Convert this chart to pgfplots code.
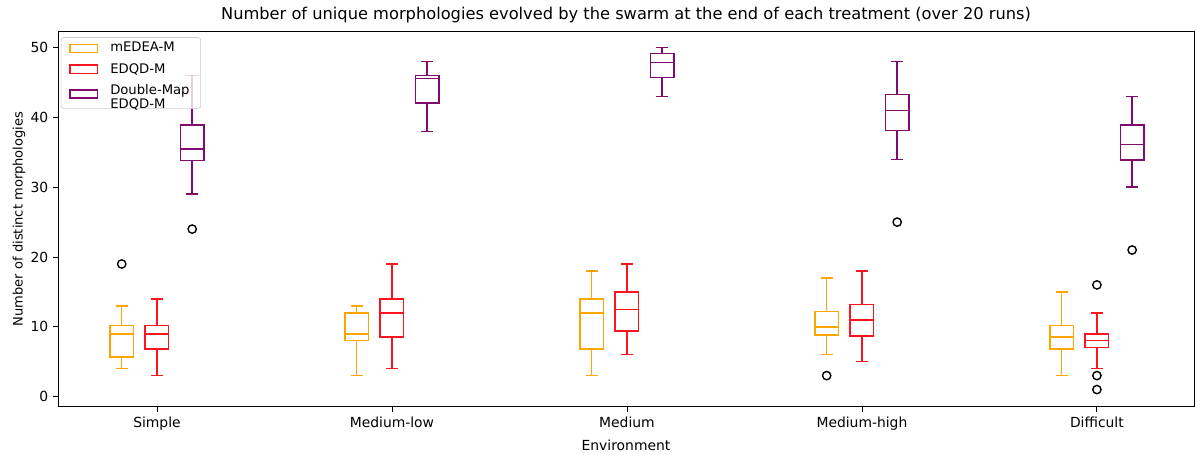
\documentclass[border=0pt]{standalone}
\usepackage{pgfplots}
\pgfplotsset{compat=1.18}
\usepgfplotslibrary{statistics}
\usepackage{fontspec}
\setmainfont{DejaVu Sans}
\definecolor{cA}{RGB}{255,165,0}
\definecolor{cB}{RGB}{250,20,30}
\definecolor{cC}{RGB}{128,10,110}
\begin{document}
\begin{tikzpicture}
\begin{axis}[
  scale only axis,
  width=818pt, height=270.7pt,
  xmin=-0.421, xmax=4.413, ymin=-1.48, ymax=52.4,
  xtick={0,1,2,3,4},
  xticklabels={Simple,Medium-low,Medium,Medium-high,Difficult},
  ytick={0,10,20,30,40,50},
  tick align=outside, tick pos=left,
  major tick length=3.5pt,
  every tick/.style={black, line width=0.6pt},
  axis line style={line width=0.6pt},
  /pgf/number format/assume math mode=true,
  tick label style={font=\fontsize{10}{12}\selectfont},
  xlabel={Environment}, ylabel={Number of distinct morphologies},
  xlabel style={font=\fontsize{10}{12}\selectfont},
  ylabel style={font=\fontsize{9.4}{11}\selectfont, yshift=-3pt},
  title={Number of unique morphologies evolved by the swarm at the end of each treatment (over 20 runs)},
  title style={font=\fontsize{11.7}{14}\selectfont, yshift=-4pt},
  legend cell align=left,
  legend style={at={(0,1)}, anchor=north west, xshift=2pt, yshift=-4.5pt,
     draw=black!20, fill=white, fill opacity=0.8, text opacity=1,
     rounded corners=2pt, font=\fontsize{9.5}{10.2}\selectfont,
     row sep=2.6pt, column sep=6.5pt, inner xsep=6pt, inner ysep=1.5pt},
  legend image code/.code={\draw[sharp corners, #1] (0pt,-2.9pt) rectangle (20pt,2.9pt);},
  boxplot/draw direction=y,
  boxplot/box extend=0.1,
  boxplot/whisker extend=0.05,
  bx/.style={line width=1.1pt, mark=o, mark size=3pt, mark options={draw=black, line width=1pt, fill=none}},
]
\addlegendimage{draw=cA, line width=0.9pt}
\addlegendentry{mEDEA-M}
\addlegendimage{draw=cB, line width=0.9pt}
\addlegendentry{EDQD-M}
\addlegendimage{draw=cC, line width=0.9pt}
\addlegendentry{\begin{tabular}{@{}l@{}}Double-Map\\EDQD-M\end{tabular}}
% Simple
\addplot[bx, color=cA, boxplot prepared={draw position=-0.15, lower whisker=4, lower quartile=5.7, median=9, upper quartile=10.2, upper whisker=13}] table[row sep=\\, y index=0] {data\\ 19\\};
\addplot[bx, color=cB, boxplot prepared={draw position=0, lower whisker=3, lower quartile=6.8, median=9, upper quartile=10.2, upper whisker=14}] coordinates {};
\addplot[bx, color=cC, boxplot prepared={draw position=0.15, lower whisker=29, lower quartile=33.8, median=35.5, upper quartile=38.9, upper whisker=46}] table[row sep=\\, y index=0] {data\\ 24\\};
% Medium-low
\addplot[bx, color=cA, boxplot prepared={draw position=0.85, lower whisker=3, lower quartile=8, median=9, upper quartile=12, upper whisker=13}] coordinates {};
\addplot[bx, color=cB, boxplot prepared={draw position=1, lower whisker=4, lower quartile=8.5, median=12, upper quartile=14, upper whisker=19}] coordinates {};
\addplot[bx, color=cC, boxplot prepared={draw position=1.15, lower whisker=38, lower quartile=42.1, median=45.6, upper quartile=46, upper whisker=48}] coordinates {};
% Medium
\addplot[bx, color=cA, boxplot prepared={draw position=1.85, lower whisker=3, lower quartile=6.8, median=12, upper quartile=14, upper whisker=18}] coordinates {};
\addplot[bx, color=cB, boxplot prepared={draw position=2, lower whisker=6, lower quartile=9.4, median=12.5, upper quartile=15, upper whisker=19}] coordinates {};
\addplot[bx, color=cC, boxplot prepared={draw position=2.15, lower whisker=43, lower quartile=45.7, median=47.9, upper quartile=49.2, upper whisker=50}] coordinates {};
% Medium-high
\addplot[bx, color=cA, boxplot prepared={draw position=2.85, lower whisker=6, lower quartile=8.8, median=10, upper quartile=12.2, upper whisker=17}] table[row sep=\\, y index=0] {data\\ 3\\};
\addplot[bx, color=cB, boxplot prepared={draw position=3, lower whisker=5, lower quartile=8.7, median=11, upper quartile=13.2, upper whisker=18}] coordinates {};
\addplot[bx, color=cC, boxplot prepared={draw position=3.15, lower whisker=34, lower quartile=38.1, median=41, upper quartile=43.3, upper whisker=48}] table[row sep=\\, y index=0] {data\\ 25\\};
% Difficult
\addplot[bx, color=cA, boxplot prepared={draw position=3.85, lower whisker=3, lower quartile=6.8, median=8.5, upper quartile=10.2, upper whisker=15}] coordinates {};
\addplot[bx, color=cB, boxplot prepared={draw position=4, lower whisker=4, lower quartile=7, median=8, upper quartile=9, upper whisker=12}] table[row sep=\\, y index=0] {data\\ 16\\ 3\\ 1\\};
\addplot[bx, color=cC, boxplot prepared={draw position=4.15, lower whisker=30, lower quartile=33.9, median=36.1, upper quartile=38.9, upper whisker=43}] table[row sep=\\, y index=0] {data\\ 21\\};
\end{axis}
\path[use as bounding box] ([xshift=-41.8pt, yshift=-33.1pt]current axis.south west) rectangle ([xshift=2.2pt, yshift=22.3pt]current axis.north east);
\end{tikzpicture}
\end{document}
